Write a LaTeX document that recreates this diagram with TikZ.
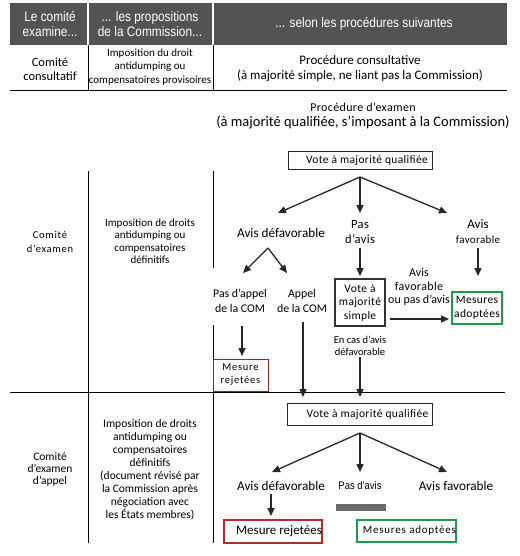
\documentclass[tikz,border=0pt]{standalone}
\usepackage{fontspec}
\setmainfont{Carlito}
\newfontfamily\hdrfont[FakeStretch=0.86]{Liberation Sans}
\newfontfamily\spcfont[LetterSpace=7]{Carlito}
\newfontfamily\spclight[LetterSpace=3]{Carlito}
\usetikzlibrary{arrows.meta}
\definecolor{hdrgrey}{HTML}{535353}
\definecolor{darkred}{HTML}{8E2A2A}
\definecolor{brightred}{HTML}{C0272D}
\definecolor{mygreen}{HTML}{1E9A4A}
\definecolor{bargrey}{HTML}{6A6A6A}
\tikzset{
  txt/.style={align=center, inner sep=0pt},
  hdr/.style={txt, text=white, font=\hdrfont\fontsize{13.8}{15}\selectfont},
  arr/.style={-{Triangle[length=8pt,width=7pt]}, line width=1.3pt, draw=black!85},
  rule/.style={line width=0.8pt, draw=black},
  boxq/.style={draw=black!85, line width=1pt, inner sep=0pt, font=\spclight\fontsize{11.5}{12}\selectfont},
}
\begin{document}
\begin{tikzpicture}[x=1pt,y=-1pt]
\useasboundingbox (0,0) rectangle (519,556);
% header band
\fill[hdrgrey] (10,3) rectangle (507,45);
\draw[white, line width=1.2pt] (88,3) -- (88,45);
\draw[white, line width=1.2pt] (213,3) -- (213,45);
\node[hdr] (h1) at (50,24) {Le comité\\examine...};
\node[hdr] (h2) at (150,24) {... les propositions\\de la Commission...};
\node[hdr] (h3) at (364,24) {... selon les procédures suivantes};
% row 1
\draw[rule] (88,45) -- (88,90);
\draw[rule] (213,45) -- (213,90);
\draw[rule] (10,90) -- (507,90);
\node[txt, font=\fontsize{12.5}{14}\selectfont] (r1a) at (50,69) {Comité\\consultatif};
\node[txt, font=\fontsize{11}{13.5}\selectfont] (r1b) at (150,67) {Imposition du droit\\antidumping ou\\compensatoires provisoires};
\node[txt, font=\fontsize{13}{15}\selectfont] (r1c) at (360,69) {Procédure consultative\\(à majorité simple, ne liant pas la Commission)};
% row 2
\node[txt, font=\fontsize{14.5}{15.5}\selectfont] (r2title) at (363,116) {{\spclight\fontsize{12}{15}\selectfont Procédure d’examen}\\(à majorité qualifiée, s’imposant à la Commission)};
\draw[rule] (88,171) -- (88,543);
\draw[rule] (213,171) -- (213,268);
\draw[rule] (213,325) -- (213,359);
\draw[rule] (213,392) -- (213,543);
\draw[rule] (10,392) -- (505,392);
\node[txt, font=\spcfont\fontsize{10.5}{14}\selectfont] (r2a) at (50,242) {Comité\\d’examen};
\node[txt, font=\fontsize{11}{12.5}\selectfont] (r2b) at (150,241) {Imposition de droits\\antidumping ou\\compensatoires\\définitifs};

\node[boxq, minimum width=144pt, minimum height=17pt] (vq1) at (360,160.5) {\hspace*{14pt}Vote à majorité qualifiée};
\coordinate (apexA) at (360,177);
\coordinate (eL) at (278,213);
\coordinate (eM) at (360,213);
\coordinate (eR) at (447,213);
\draw[arr] (apexA) -- (eL);
\draw[arr] (apexA) -- (eM);
\draw[arr] (apexA) -- (eR);

\node[txt, font=\fontsize{13.2}{14}\selectfont] (def1) at (281,233) {Avis défavorable};
\node[txt, font=\spclight\fontsize{12.5}{15}\selectfont] (pas1) at (360,232) {Pas\\d’avis};
\node[txt, font=\fontsize{13}{15}\selectfont] (fav1) at (478,232) {Avis\\{\spclight\fontsize{11}{15}\selectfont favorable}};

\coordinate (apexB) at (268,248);
\coordinate (eB1) at (243,273);
\coordinate (eB2) at (287,273);
\draw[arr] (apexB) -- (eB1);
\draw[arr] (apexB) -- (eB2);

\node[txt, font=\fontsize{11.8}{15}\selectfont] (pasapp) at (240,301) {Pas d’appel\\de la COM};
\node[txt, font=\fontsize{11.8}{15}\selectfont] (app) at (302,301) {Appel\\de la COM};

\coordinate (pasT) at (360,248);
\coordinate (vsTop) at (360,276);
\coordinate (favT) at (478,248);
\coordinate (favEnd) at (478,276);
\draw[arr] (pasT) -- (vsTop);
\draw[arr] (favT) -- (favEnd);

\node[draw=black!80, line width=1.8pt, minimum width=50pt, minimum height=47pt, inner sep=0pt,
      align=center, font=\spclight\fontsize{11.5}{13.5}\selectfont] (vs) at (360,302.5) {Vote à\\majorité\\simple};
\node[draw=mygreen, line width=1.2pt, minimum width=50pt, minimum height=32pt, inner sep=0pt,
      align=center, font=\spclight\fontsize{11.5}{14}\selectfont] (ado1) at (477,308) {Mesures\\adoptées};
\node[txt, font=\fontsize{12}{13.5}\selectfont] (favou) at (419,287) {Avis\\{\spclight favorable}\\ou pas d’avis};
\coordinate (hS) at (390,319);
\coordinate (hE) at (449,319);
\draw[arr] (hS) -- (hE);

\node[txt, font=\fontsize{10.5}{12.5}\selectfont] (cas) at (360,346) {En cas d’avis\\défavorable};

\coordinate (pasappS) at (242,326);
\coordinate (pasappE) at (242,356);
\draw[arr] (pasappS) -- (pasappE);
\node[draw=darkred, line width=0.8pt, minimum width=55pt, minimum height=32pt, inner sep=0pt,
      align=center, font=\spcfont\fontsize{10.5}{13}\selectfont] (rej1) at (240.5,375) {Mesure\\rejetées};

\coordinate (appS) at (303,322);
\coordinate (appE) at (303,397);
\draw[arr] (appS) -- (appE);
\coordinate (casS) at (360,357);
\coordinate (casE) at (360,397);
\draw[arr] (casS) -- (casE);

% row 3
\node[txt, font=\fontsize{11.5}{12}\selectfont] (r3a) at (50,469) {Comité\\d’examen\\d’appel};
\node[txt, font=\fontsize{11.5}{13}\selectfont] (r3b) at (150,469.5) {Imposition de droits\\antidumping ou\\compensatoires\\définitifs\\(document révisé par\\la Commission après\\négociation avec\\les États membres)};

\node[boxq, minimum width=145pt, minimum height=22pt] (vq2) at (359.5,414) {\hspace*{16pt}Vote à majorité qualifiée};
\coordinate (apexC) at (360,433);
\coordinate (fL) at (272,472);
\coordinate (fM) at (360,472);
\coordinate (fR) at (447,472);
\draw[arr] (apexC) -- (fL);
\draw[arr] (apexC) -- (fM);
\draw[arr] (apexC) -- (fR);

\node[txt, font=\fontsize{13.2}{14}\selectfont] (def2) at (281,486) {Avis défavorable};
\node[txt, font=\hdrfont\fontsize{11}{14}\selectfont] (pas2) at (360,486) {Pas d’avis};
\node[txt, font=\fontsize{13.2}{14}\selectfont] (fav2) at (456,486) {Avis favorable};

\coordinate (d2S) at (271,494);
\coordinate (d2E) at (271,516);
\draw[arr] (d2S) -- (d2E);
\node[fill=bargrey, minimum width=50pt, minimum height=7pt, inner sep=0pt] (bar) at (361,507.5) {};

\node[draw=brightred, line width=1.2pt, minimum width=94pt, minimum height=23pt, inner sep=0pt,
      font=\fontsize{13}{14}\selectfont] (rej2) at (273,531.5) {\hspace*{12pt}Mesure rejetées};
\node[draw=mygreen, line width=1.2pt, minimum width=93pt, minimum height=22pt, inner sep=0pt,
      font=\spcfont\fontsize{11}{14}\selectfont] (ado2) at (406.5,531) {\hspace*{6pt}Mesures adoptées};
\end{tikzpicture}
\end{document}
